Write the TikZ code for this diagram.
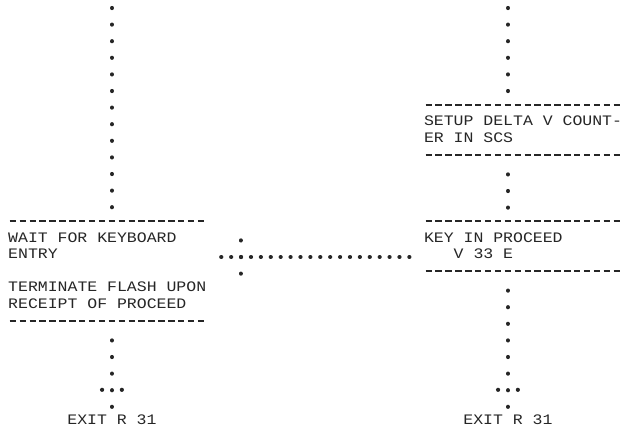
\documentclass[tikz,border=0pt]{standalone}
\usepackage{fontspec}
\newfontfamily\prtfont[FakeStretch=1.138]{Liberation Mono}
\usetikzlibrary{calc}
\definecolor{inkc}{HTML}{262626}
\setlength{\parindent}{0pt}
\DeclareRobustCommand{\prtsetup}{\fontsize{14.5pt}{16.6pt}\prtfont}
% fixed line-printer spacing inside the boxes
\newcommand{\toprow}{\spaceskip=9.9pt\relax\xspaceskip=9.9pt\relax\rule{0pt}{20.9pt}}
\newcommand{\lastrow}{\rule[-12.3pt]{0pt}{12.3pt}}

\begin{document}
\begin{tikzpicture}[
  x=9.9pt, y=-16.6pt,
  font=\prtsetup,
  text=inkc,
  box/.style={inner sep=0pt, text width=199pt, align=left, anchor=north west},
  exitn/.style={inner sep=0pt, anchor=base},
  rule/.style={draw=inkc, line width=1.9pt, dash pattern=on 6.4pt off 3.5pt, dash phase=8.2pt},
  vdots/.style={draw=inkc, line width=4.2pt, line cap=round, dash pattern=on 0.01pt off 16.59pt},
  hdots/.style={draw=inkc, line width=4.2pt, line cap=round, dash pattern=on 0.01pt off 9.89pt}
]
\useasboundingbox (-1.308,-0.482) rectangle (61.72,25.72);
% --- nodes -----------------------------------------------------------------
\node[box] (waitbox) at (-0.5,12.83)
  {\toprow WAIT FOR KEYBOARD\\ENTRY\\[16.6pt]TERMINATE FLASH UPON\\RECEIPT OF PROCEED\lastrow};
\node[box] (setupbox) at (41.5,5.83) {\toprow SETUP DELTA V COUNT-\\ER IN SCS\lastrow};
\node[box] (keybox) at (41.5,12.83) {\toprow KEY IN PROCEED\\\hspace*{29.7pt}V 33 E\lastrow};
\node[exitn] (exitl) at (10,25.09) {EXIT R 31};
\node[exitn] (exitr) at (50,25.09) {EXIT R 31};
\coordinate (ltop) at (10,0);
\coordinate (rtop) at (50,0);
\coordinate (join) at (23,15);

% --- box rules -------------------------------------------------------------
\foreach \b in {waitbox,setupbox,keybox} {
  \draw[rule] (\b.north west) -- (\b.north east);
  \draw[rule] (\b.south west) -- (\b.south east);
}

% --- dotted flow -----------------------------------------------------------
\draw[vdots] (ltop) -- (ltop |- waitbox.north);
\draw[vdots] ($(waitbox.south -| ltop)+(0,1.17)$) -- (exitl.north);
\draw[vdots] (rtop) -- (rtop |- setupbox.north);
\draw[vdots] ($(setupbox.south -| rtop)+(0,1.17)$) -- (rtop |- keybox.north);
\draw[vdots] ($(keybox.south -| rtop)+(0,1.17)$) -- (exitr.north);
\draw[hdots] ($(waitbox.east |- join)+(1.4,0)$) -- ($(keybox.west |- join)+(-1.4,0)$);
\draw[vdots] ($(join)+(0,-1)$) -- ($(join)+(0,1.01)$);
\foreach \c in {9,11,49,51} \fill[inkc] (\c,23) circle (2.1pt);
\end{tikzpicture}
\end{document}
